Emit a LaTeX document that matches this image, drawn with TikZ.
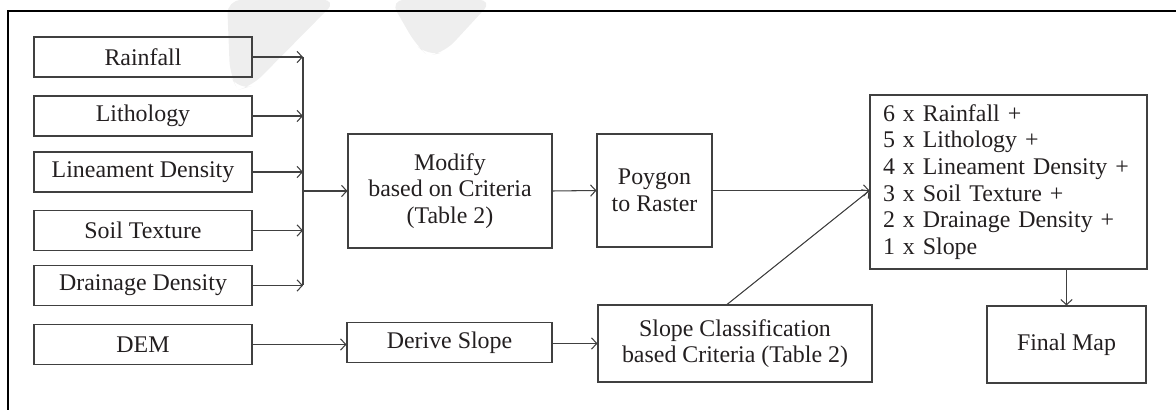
\documentclass[tikz,border=0pt]{standalone}
\usepackage{fontspec}
\setmainfont{Liberation Serif}
\usetikzlibrary{arrows.meta}
\definecolor{boxgray}{RGB}{64,64,64}
\definecolor{textgray}{RGB}{35,31,32}
\definecolor{markgray}{RGB}{238,238,238}

\begin{document}
\begin{tikzpicture}[
    font=\fontsize{13.6}{15.2}\selectfont,
    >={Straight Barb[length=3pt,width=6.5pt]},
    box/.style={draw=boxgray, line width=0.6pt, text=textgray, align=center, inner sep=2pt},
    inbox/.style={box, minimum width=4.36cm, minimum height=0.8cm},
    arr/.style={->, boxgray, line width=0.6pt}
]
    \useasboundingbox (0,0) rectangle (23.52,8.2);

    % Marca de agua
    \fill[markgray, rounded corners=8pt] (4.54,8.2) -- (6.74,8.2) -- (5.04,6.48) -- (4.76,6.4) -- (4.6,6.7) -- cycle;
    \fill[markgray, rounded corners=8pt] (7.8,8.2) -- (9.86,8.2) -- (8.9,7.16) -- (8.56,7.08) -- (8.32,7.3) -- cycle;

    % Marco
    \draw[line width=1.2pt] (0.16,0) -- (0.16,7.98) -- (23.52,7.98);

    % Capas de entrada
    \foreach \name/\y/\txt in {rain/7.06/Rainfall, litho/5.88/Lithology, line/4.76/Lineament Density, soil/3.59/Soil Texture, drain/2.49/Drainage Density, dem/1.31/DEM} {
        \node[inbox] (\name) at (2.86,\y) {\txt};
    }

    % Colector
    \coordinate (bus) at (6.06,0);
    \foreach \name in {rain, litho, line, soil, drain} {
        \draw[arr] (\name.east) -- (\name.east -| bus);
    }
    \draw[boxgray, line width=0.6pt] (rain.east -| bus) -- (drain.east -| bus);

    % Procesos
    \node[box, minimum width=4.08cm, minimum height=2.28cm] (modify) at (9.0,4.38) {Modify\\based on Criteria\\(Table 2)};
    \draw[arr] (bus |- modify.west) -- (modify.west);

    \node[box, minimum width=2.3cm, minimum height=2.26cm] (poly) at (13.09,4.39) {Poygon\\to Raster};
    \draw[arr] (modify.east) -- (poly.west);

    \node[box, minimum width=4.1cm, minimum height=0.8cm] (derive) at (8.99,1.35) {Derive Slope};
    \draw[arr] (dem.east) -- (dem.east -| derive.west);

    \node[box, minimum width=5.48cm, minimum height=1.54cm] (cls) at (14.7,1.33) {Slope Classification\\based Criteria (Table 2)};
    \draw[arr] ([yshift=-0.02cm]derive.east) -- ([yshift=-0.02cm]derive.east -| cls.west);

    % Suma ponderada
    \node[box, align=left, text width=5.02cm, inner xsep=0.26cm, minimum height=3.48cm] (result) at (20.17,4.56)
        {6 x Rainfall +\\5 x Lithology +\\4 x Lineament Density +\\3 x Soil Texture +\\2 x Drainage Density +\\1 x Slope};
    \draw[arr] (poly.east) -- (poly.east -| result.west);
    \draw[arr] ([xshift=-0.16cm]cls.north) -- (poly.east -| result.west);

    % Mapa final
    \node[box, minimum width=3.18cm, minimum height=1.54cm] (final) at (21.33,1.31) {Final Map};
    \draw[arr] (final.north |- result.south) -- (final.north);
\end{tikzpicture}
\end{document}
